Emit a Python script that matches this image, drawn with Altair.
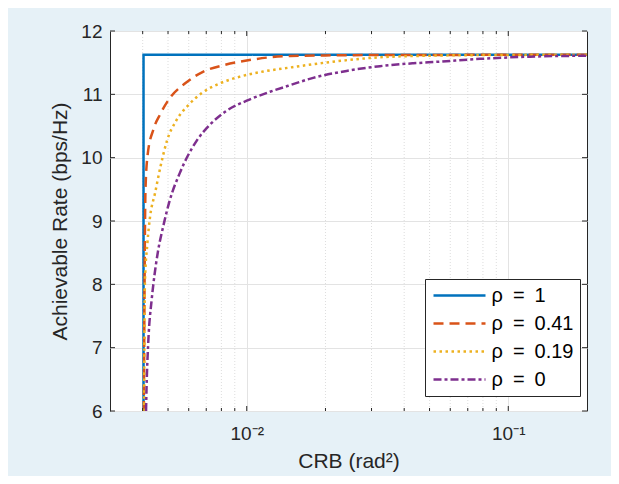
import altair as alt
import pandas as pd

# ---- data ----
series_labels = ["ρ\u2002=\u20021\u2009", "ρ\u2002=\u20020.41\u2009",
                 "ρ\u2002=\u20020.19\u2009", "ρ\u2002=\u20020\u2009"]

x_rho1 = [0.00403, 0.00403, 0.2]
y_rho1 = [6.0, 11.625, 11.625]

x_rho041 = [0.00404, 0.00406, 0.00408, 0.00410, 0.00418, 0.00440, 0.00466, 0.00508,
            0.00580, 0.00683, 0.00814, 0.00986, 0.01227, 0.0147, 0.02, 0.03, 0.2]
y_rho041 = [6.0, 7.5, 8.8, 9.5, 10.05, 10.45, 10.68, 10.94,
            11.17, 11.36, 11.46, 11.53, 11.585, 11.605, 11.615, 11.62, 11.625]

x_rho019 = [0.00405, 0.00406, 0.00408, 0.00417, 0.00427, 0.00446, 0.00468, 0.00494,
            0.00540, 0.00598, 0.00673, 0.00791, 0.00942, 0.01156, 0.01443, 0.0208,
            0.0323, 0.050, 0.08, 0.2]
y_rho019 = [6.0, 7.0, 8.03, 8.65, 9.07, 9.44, 9.86, 10.25,
            10.6, 10.83, 11.02, 11.175, 11.28, 11.36, 11.42, 11.51,
            11.585, 11.61, 11.62, 11.625]

x_rho0 = [0.00412, 0.00414, 0.00420, 0.00433, 0.00440, 0.00459, 0.00479, 0.00508,
          0.00555, 0.00644, 0.00723, 0.00837, 0.0100, 0.01227, 0.0144,
          0.01795, 0.0241, 0.0323, 0.0433, 0.054, 0.078, 0.121, 0.2]
y_rho0 = [6.0, 6.39, 7.07, 7.76, 8.02, 8.55, 8.91, 9.33,
          9.76, 10.27, 10.52, 10.74, 10.90, 11.04, 11.135,
          11.26, 11.37, 11.445, 11.49, 11.515, 11.56, 11.595, 11.61]

x_major = [0.01, 0.1]
x_minor = [0.004, 0.005, 0.006, 0.007, 0.008, 0.009,
           0.02, 0.03, 0.04, 0.05, 0.06, 0.07, 0.08, 0.09]
y_ticks = [6, 7, 8, 9, 10, 11, 12]

colors = ["#0072BD", "#D95319", "#EDB120", "#7E2F8E"]
dashes = [[1, 0], [10, 6], [2.5, 3.5], [8, 3, 3, 3]]

# ---- tables ----
rows = []
for lab, xs, ys in zip(series_labels,
                       [x_rho1, x_rho041, x_rho019, x_rho0],
                       [y_rho1, y_rho041, y_rho019, y_rho0]):
    for i, (a, b) in enumerate(zip(xs, ys)):
        rows.append({"series": lab, "x": a, "y": b, "idx": i})
df = pd.DataFrame(rows)
df_major = pd.DataFrame({"x": x_major})
df_minor = pd.DataFrame({"x": x_minor})
df_y = pd.DataFrame({"y": y_ticks})

W, H = 477, 380
FONT = "Liberation Sans"
TXT = "#262626"

xscale = alt.Scale(type="log", domain=[0.003, 0.2], nice=False)
yscale = alt.Scale(domain=[6, 12], nice=False, zero=False)
xaxis = alt.Axis(values=x_major, labelExpr="datum.value < 0.05 ? '10⁻²' : '10⁻¹'",
                 grid=True, ticks=False, domain=False, tickSize=0,
                 labelPadding=13, titlePadding=7)
yaxis = alt.Axis(values=y_ticks, grid=True, ticks=False, domain=False, tickSize=0,
                 labelPadding=8, titlePadding=10)
XT = "CRB (rad²)"
YT = "Achievable Rate (bps/Hz)"

def X():
    return alt.X("x:Q", scale=xscale, axis=xaxis, title=XT)

def Y():
    return alt.Y("y:Q", scale=yscale, axis=yaxis, title=YT)

minor_grid = alt.Chart(df_minor).mark_rule(color="#D4D4D4", strokeWidth=0.8, strokeDash=[1, 2]).encode(
    x=X(), y=alt.value(0), y2=alt.value(H),
)

lines = alt.Chart(df).mark_line(strokeWidth=2.5, clip=True, interpolate="monotone").encode(
    x=X(), y=Y(),
    color=alt.Color("series:N", scale=alt.Scale(domain=series_labels, range=colors),
                    sort=series_labels, legend=alt.Legend(title=None)),
    strokeDash=alt.StrokeDash("series:N", scale=alt.Scale(domain=series_labels, range=dashes),
                              sort=series_labels, legend=alt.Legend(title=None)),
    order=alt.Order("idx:Q"),
)

def xticks(data, length):
    bottom = alt.Chart(data).mark_rule(color=TXT, strokeWidth=1).encode(
        x=X(), y=alt.value(H), y2=alt.value(H - length))
    top = alt.Chart(data).mark_rule(color=TXT, strokeWidth=1).encode(
        x=X(), y=alt.value(0), y2=alt.value(length))
    return [bottom, top]

yleft = alt.Chart(df_y).mark_rule(color=TXT, strokeWidth=1).encode(
    y=Y(), x=alt.value(0), x2=alt.value(5))
yright = alt.Chart(df_y).mark_rule(color=TXT, strokeWidth=1).encode(
    y=Y(), x=alt.value(W), x2=alt.value(W - 5))

chart = alt.layer(
    minor_grid, lines, *xticks(df_major, 5), *xticks(df_minor, 3), yleft, yright
).properties(
    width=W, height=H,
    autosize=alt.AutoSizeParams(type="none"),
    padding={"left": 102, "top": 23, "right": 24, "bottom": 65},
    background="#E6F1F7",
).configure_view(
    stroke=TXT, strokeWidth=1, fill="white"
).configure_axis(
    labelFont=FONT, labelFontSize=19, labelColor=TXT,
    titleFont=FONT, titleFontSize=21, titleColor=TXT, titleFontWeight="normal",
    gridColor="#E3E3E3", gridWidth=1,
).configure_legend(
    orient="none", legendX=315, legendY=248,
    symbolType="M-5.2,0H5.2", symbolSize=100, symbolStrokeWidth=2.5, symbolOffset=18,
    labelFont=FONT, labelFontSize=20, labelColor="#000", labelOffset=22, labelLimit=300,
    padding=6.5, rowPadding=8, strokeColor="#262626", fillColor="white", cornerRadius=0,
)

chart.save("out.html", embed_options={"renderer": "svg", "actions": False})
